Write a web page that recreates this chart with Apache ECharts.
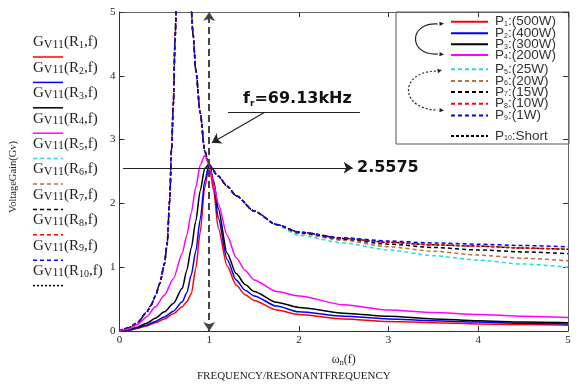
<!DOCTYPE html>
<html>
<head>
<meta charset="utf-8">
<script src="https://cdn.jsdelivr.net/npm/echarts@6/dist/echarts.min.js"></script>
<style>
  html, body { margin: 0; padding: 0; background: #fff; }
  #chart { width: 582px; height: 385px; }
</style>
</head>
<body>
<div id="chart"></div>
<script>
// Voltage gain vs normalised frequency, one curve per load.
const xTicks = [0, 1, 2, 3, 4, 5]
const yTicks = [0, 1, 2, 3, 4, 5]

// light loads (solid curves), sampled on one grid
const xGrid = [0, 0.1, 0.2, 0.3, 0.4, 0.5, 0.6, 0.7, 0.75, 0.8, 0.85, 0.9, 0.95, 1.0, 1.05, 1.1, 1.2, 1.3, 1.4, 1.5, 1.75, 2, 2.5, 3, 3.5, 4, 4.5, 5]
const gainP1 = [0, 0.01, 0.04, 0.08, 0.13, 0.19, 0.27, 0.38, 0.46, 0.58, 0.98, 1.55, 2.25, 2.6, 2.2, 1.62, 1.02, 0.72, 0.57, 0.48, 0.33, 0.26, 0.19, 0.15, 0.13, 0.11, 0.1, 0.09]
const gainP2 = [0, 0.01, 0.05, 0.09, 0.15, 0.22, 0.31, 0.46, 0.6, 0.88, 1.25, 1.75, 2.35, 2.62, 2.3, 1.78, 1.12, 0.8, 0.64, 0.55, 0.39, 0.3, 0.23, 0.19, 0.16, 0.14, 0.12, 0.11]
const gainP3 = [0, 0.02, 0.06, 0.12, 0.2, 0.3, 0.43, 0.67, 0.95, 1.3, 1.72, 2.2, 2.55, 2.62, 2.35, 1.92, 1.22, 0.9, 0.73, 0.62, 0.45, 0.37, 0.28, 0.23, 0.19, 0.16, 0.14, 0.13]
const gainP4 = [0, 0.03, 0.1, 0.22, 0.38, 0.56, 0.82, 1.22, 1.5, 1.85, 2.25, 2.6, 2.75, 2.6, 2.3, 2.0, 1.5, 1.15, 0.95, 0.8, 0.62, 0.55, 0.41, 0.33, 0.29, 0.26, 0.23, 0.21]

// heavy loads (dashed curves): branch below the pole, then branch above it
const xLow = [0, 0.1, 0.2, 0.3, 0.35, 0.4, 0.45, 0.5, 0.53, 0.56, 0.58, 0.6, 0.62, 0.64]
const gainLow = [0, 0.05, 0.13, 0.29, 0.4, 0.55, 0.75, 1.05, 1.35, 2.05, 2.85, 3.55, 4.6, 5.6]
const xHigh = [0.8, 0.82, 0.85, 0.9, 0.95, 1.0, 1.1, 1.2, 1.3, 1.5, 1.75, 2, 2.5, 3, 3.5, 4, 4.5, 5]
const gainP5 = [5.1, 4.65, 4.1, 3.42, 2.82, 2.6, 2.43, 2.27, 2.12, 1.88, 1.66, 1.5, 1.38, 1.27, 1.18, 1.11, 1.05, 1.0]
const gainP6 = [5.1, 4.65, 4.1, 3.42, 2.82, 2.6, 2.43, 2.27, 2.12, 1.88, 1.67, 1.53, 1.42, 1.32, 1.25, 1.19, 1.14, 1.1]
const gainP7 = [5.1, 4.65, 4.1, 3.42, 2.82, 2.6, 2.43, 2.27, 2.12, 1.88, 1.67, 1.54, 1.44, 1.36, 1.31, 1.27, 1.24, 1.21]
const gainP8 = [5.1, 4.65, 4.1, 3.42, 2.82, 2.6, 2.43, 2.27, 2.12, 1.88, 1.67, 1.55, 1.45, 1.39, 1.35, 1.33, 1.3, 1.28]
const gainP9 = [5.1, 4.65, 4.1, 3.42, 2.82, 2.6, 2.43, 2.27, 2.12, 1.88, 1.67, 1.55, 1.46, 1.41, 1.38, 1.36, 1.34, 1.32]
const gainP10 = [5.1, 4.65, 4.1, 3.42, 2.82, 2.6, 2.43, 2.27, 2.12, 1.88, 1.67, 1.55, 1.45, 1.39, 1.35, 1.33, 1.3, 1.28]

const resonantGain = 2.5575

const SERIF = "'Liberation Serif', 'DejaVu Serif', serif"
const SANS = "'Liberation Sans', Arial, sans-serif"
const BOLD = "'DejaVu Sans', 'Liberation Sans', sans-serif"

const curves = [
  { name: 'P1:(500W)', ys: gainP1, color: '#ff0000', dash: 'solid' },
  { name: 'P2:(400W)', ys: gainP2, color: '#0000ff', dash: 'solid' },
  { name: 'P3:(300W)', ys: gainP3, color: '#000000', dash: 'solid' },
  { name: 'P4:(200W)', ys: gainP4, color: '#ff00ff', dash: 'solid' },
  { name: 'P5:(25W)', ys: gainP5, color: '#22dddd', dash: [4, 3] },
  { name: 'P6:(20W)', ys: gainP6, color: '#b8703a', dash: [4, 3] },
  { name: 'P7:(15W)', ys: gainP7, color: '#000000', dash: [4, 3] },
  { name: 'P8:(10W)', ys: gainP8, color: '#ff0000', dash: [4, 3] },
  { name: 'P9:(1W)', ys: gainP9, color: '#0000ff', dash: [4, 3] },
  { name: 'P10:Short', ys: gainP10, color: '#000000', dash: [3, 2] },
]

// row centres of the boxed legend entries
const legendRows = [20.7, 32.3, 43.3, 54, 68.3, 80, 91, 102.7, 114.5, 135]

const toPairs = (xs, ys) => xs.map((x, i) => [x, ys[i]])

const seriesData = (c) => {
  if (c.ys.length === xGrid.length) return toPairs(xGrid, c.ys)
  // break the line across the pole
  return toPairs(xLow, gainLow).concat([[0.72, '-']], toPairs(xHigh, c.ys))
}

// draw dashed first so the solid peaks sit on top
const order = [9, 4, 5, 6, 7, 8, 0, 1, 2, 3]
const series = order.map((k) => {
  const c = curves[k]
  return {
    type: 'line',
    name: c.name,
    data: seriesData(c),
    symbol: 'none',
    smooth: 0.25,
    smoothMonotone: 'x',
    connectNulls: false,
    color: c.color,
    lineStyle: { width: 1.5, type: c.dash, color: c.color },
    silent: true,
    z: k < 4 ? 3 : 2,
  }
})

// annotation lines (in data coordinates)
series.push({
  type: 'line',
  name: 'annot',
  data: [],
  markLine: {
    silent: true,
    animation: false,
    label: { show: false },
    symbolSize: 9,
    data: [
      [
        { coord: [1, 0], symbol: 'arrow', lineStyle: { type: [7, 4], color: '#444', width: 2 } },
        { coord: [1, 5], symbol: 'arrow' },
      ],
      [
        { coord: [0.04, resonantGain], symbol: 'none', lineStyle: { type: 'solid', color: '#222', width: 1.2 } },
        { coord: [2.6, resonantGain], symbol: 'arrow' },
      ],
      [
        { coord: [1.21, 3.43], symbol: 'none', lineStyle: { type: 'solid', color: '#222', width: 1.2 } },
        { coord: [2.68, 3.43], symbol: 'none' },
      ],
      [
        { coord: [1.62, 3.43], symbol: 'none', lineStyle: { type: 'solid', color: '#222', width: 1.2 } },
        { coord: [1.03, 2.95], symbol: 'arrow' },
      ],
    ],
  },
})

const legendRich = {
  m: { fontFamily: SANS, fontSize: 13.5, color: '#333', lineHeight: 12 },
  s: { fontFamily: SANS, fontSize: 7, color: '#333', lineHeight: 7, verticalAlign: 'bottom' },
}
const legendFormat = (name) => name.replace(/^P(\d+)(.*)$/, '{m|P}{s|$1}{m|$2}')
// one legend component per entry so each row sits where the reference has it
const legends = curves.map((c, i) => ({
  data: [c.name],
  orient: 'vertical',
  left: 450,
  top: legendRows[i] - 6,
  padding: 0,
  itemWidth: 37,
  itemHeight: 10,
  selectedMode: false,
  itemStyle: { opacity: 0 },
  formatter: legendFormat,
  textStyle: { rich: legendRich, padding: [0, 0, 0, 2] },
}))

// left-hand key: label text with a line sample beneath
const leftKey = []
curves.forEach((c, i) => {
  const y = 57 + i * 25.4
  const n = String(i + 1)
  leftKey.push({
    type: 'text',
    left: 33,
    top: y - 22,
    style: {
      text: '{g|G}{v|V11}{g|(R}{s|' + n + '}{g|,f)}',
      rich: {
        g: { fontFamily: SERIF, fontSize: 15, fill: '#222', lineHeight: 16 },
        v: { fontFamily: SERIF, fontSize: 12, fill: '#222', lineHeight: 12, verticalAlign: 'bottom' },
        s: { fontFamily: SERIF, fontSize: 10, fill: '#222', lineHeight: 10, verticalAlign: 'bottom' },
      },
    },
  })
  leftKey.push({
    type: 'line',
    shape: { x1: 33, y1: y, x2: 63, y2: y },
    style: { stroke: c.color, lineWidth: 1.5, lineDash: c.dash === 'solid' ? null : (i === 9 ? [2, 2] : [4, 3]) },
  })
})

const arrowHead = (x, y, ang) => {
  const s = 5
  const pts = [
    [x, y],
    [x - s * Math.cos(ang - 0.45), y - s * Math.sin(ang - 0.45)],
    [x - s * Math.cos(ang + 0.45), y - s * Math.sin(ang + 0.45)],
  ]
  return { type: 'polygon', shape: { points: pts }, style: { fill: '#222' }, z: 10 }
}

const graphic = [
  // legend frame (drawn under the axes so the frame ticks show)
  { type: 'rect', shape: { x: 396, y: 12, width: 173, height: 132 }, style: { fill: '#fff', stroke: '#555', lineWidth: 1 }, z: -1 },
  { type: 'bezierCurve', shape: { x1: 438, y1: 24, x2: 438, y2: 54, cpx1: 408, cpy1: 22, cpx2: 408, cpy2: 56 }, style: { stroke: '#222', lineWidth: 1.2, fill: null }, z: 10 },
  arrowHead(444, 23.5, -0.1),
  arrowHead(444, 54.5, 0.1),
  { type: 'bezierCurve', shape: { x1: 436, y1: 71, x2: 438, y2: 110, cpx1: 398, cpy1: 72, cpx2: 400, cpy2: 110 }, style: { stroke: '#222', lineWidth: 1.2, lineDash: [2, 2], fill: null }, z: 10 },
  arrowHead(442, 70, -0.25),
  arrowHead(444, 110.5, 0.1),
  // annotation texts
  { type: 'text', left: 243, top: 91, style: { text: '{b|f}{s|r}{b|=69.13kHz}', rich: {
    b: { fontFamily: BOLD, fontSize: 16, fontWeight: 'bold', fill: '#111', lineHeight: 18 },
    s: { fontFamily: BOLD, fontSize: 9, fontWeight: 'bold', fill: '#111', lineHeight: 10, verticalAlign: 'bottom' },
  } }, z: 10 },
  { type: 'text', left: 357, top: 160, style: { text: '2.5575', fontFamily: BOLD, fontSize: 16, fontWeight: 'bold', fill: '#111' }, z: 10 },
  // y title
  { type: 'text', x: 13, y: 177, rotation: Math.PI / 2, style: { text: 'VoltageGain(Gv)', fontFamily: SERIF, fontSize: 10.5, fill: '#222', align: 'center', verticalAlign: 'middle' } },
  { type: 'text', left: 197, top: 371, style: { text: 'FREQUENCY/RESONANTFREQUENCY', fontFamily: SERIF, fontSize: 11, fill: '#222' } },
].concat(leftKey)

const axisCommon = {
  type: 'value',
  min: 0,
  max: 5,
  interval: 1,
  splitLine: { show: false },
  axisLine: { show: true, onZero: false, lineStyle: { color: '#333', width: 1 } },
  axisTick: { show: true, inside: true, length: 5, lineStyle: { color: '#333' } },
}

const option = {
  animation: false,
  backgroundColor: '#fff',
  grid: { left: 119.5, right: 14, top: 12, bottom: 54 },
  xAxis: [
    Object.assign({}, axisCommon, {
      position: 'bottom',
      axisLabel: { fontFamily: SERIF, fontSize: 11, color: '#222', margin: 4, formatter: (v) => (xTicks.includes(v) ? String(v) : '') },
      name: '{w|ω}{s|n}{w|(f)}',
      nameLocation: 'middle',
      nameGap: 22,
      nameTextStyle: { rich: {
        w: { fontFamily: SERIF, fontSize: 12, color: '#222', lineHeight: 14 },
        s: { fontFamily: SERIF, fontSize: 8, color: '#222', lineHeight: 9, verticalAlign: 'bottom' },
      } },
    }),
    Object.assign({}, axisCommon, { position: 'top', axisLabel: { show: false }, axisLine: { show: true, onZero: false, lineStyle: { color: '#666' } } }),
  ],
  yAxis: [
    Object.assign({}, axisCommon, {
      position: 'left',
      axisLabel: { fontFamily: SERIF, fontSize: 11, color: '#222', margin: 4, formatter: (v) => (yTicks.includes(v) ? String(v) : '') },
    }),
    Object.assign({}, axisCommon, { position: 'right', axisLabel: { show: false }, axisLine: { show: true, onZero: false, lineStyle: { color: '#666' } } }),
  ],
  legend: legends,
  graphic: graphic,
  series: series,
}

const chart = echarts.init(document.getElementById('chart'), null, { renderer: 'canvas' })
chart.setOption(option)
</script>
</body>
</html>
